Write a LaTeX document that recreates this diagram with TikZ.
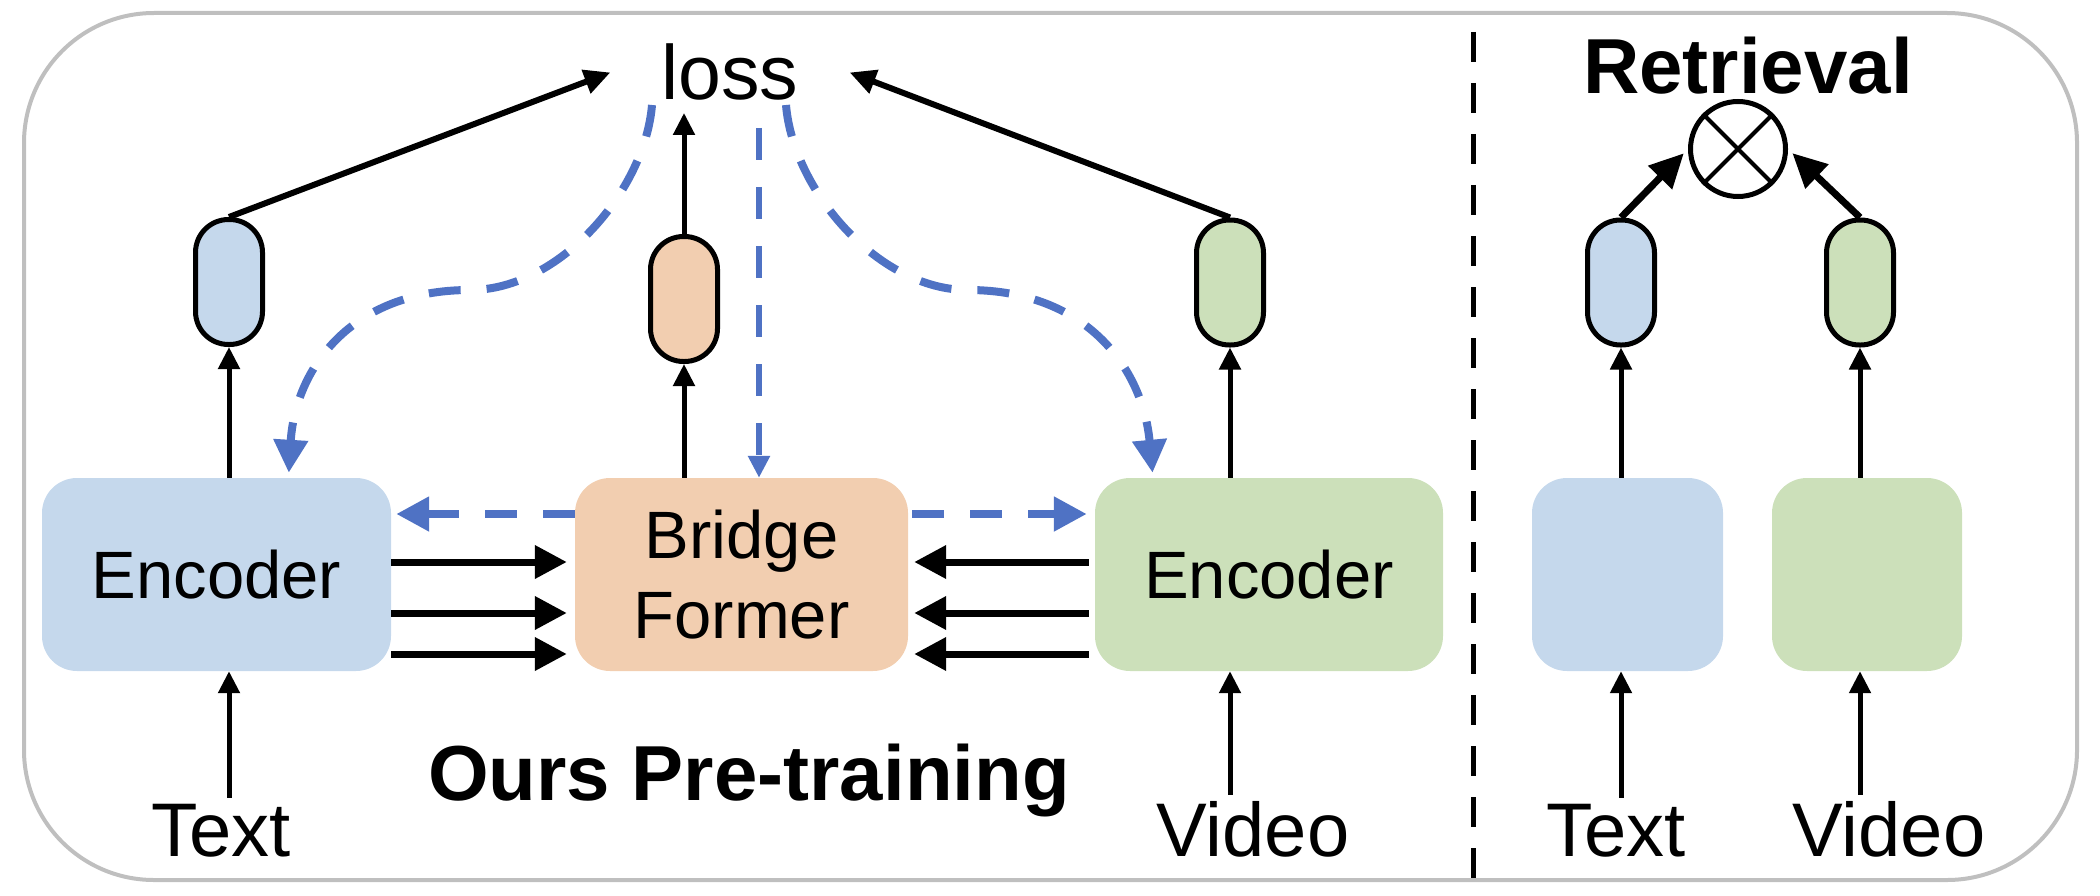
\documentclass[tikz,border=0pt]{standalone}
\usepackage{fontspec}
\setmainfont{Liberation Sans}
\usetikzlibrary{arrows.meta}

\definecolor{encblue}{RGB}{197,216,236}
\definecolor{bridgeorange}{RGB}{242,206,176}
\definecolor{encgreen}{RGB}{204,224,186}
\definecolor{dashblue}{RGB}{79,114,196}
\definecolor{framegray}{RGB}{191,191,191}

\begin{document}
\begin{tikzpicture}[
	x=1pt, y=-1pt
	,box/.style={rectangle, rounded corners=35pt, inner sep=0pt, minimum width=#1, minimum height=193pt, font=\fontsize{67}{80}\selectfont, align=center}
	,pill/.style={rectangle, rounded corners=33pt, draw, line width=5pt, minimum width=67pt, minimum height=125pt, inner sep=0pt}
	,lbl/.style={font=\fontsize{76}{80}\selectfont, anchor=base, inner sep=6pt}
	,title/.style={font=\bfseries\fontsize{78}{80}\selectfont, anchor=base}
	,arr/.style={line width=5pt, -{Triangle[length=22pt, width=21pt]}}
	,fat/.style={line width=7pt, -{Triangle[length=32pt, width=32pt]}}
	,diag/.style={line width=6pt, -{Triangle[length=26pt, width=24pt]}}
	,rarr/.style={line width=7pt, -{Triangle[length=34pt, width=32pt]}}
	,fb/.style={dashblue, line width=8pt, dash pattern=on 32pt off 26pt, -{Triangle[length=33pt, width=33pt]}}
	,fbthin/.style={dashblue, line width=6pt, dash pattern=on 32pt off 27pt, -{Triangle[length=22pt, width=21pt]}}
]
	\useasboundingbox (0,0) rectangle (2100,896);
	\draw [framegray, line width=4pt, rounded corners=130pt] (24,13) rectangle (2077,880);
	\draw [line width=5pt, dash pattern=on 30pt off 21pt] (1473,32) -- (1473,878);

	\node [box=349pt, fill=encblue] (encT) at (216.5,574.5) {Encoder};
	\node [box=333pt, fill=bridgeorange] (bridge) at (741.5,574.5) {Bridge\\Former};
	\node [box=348pt, fill=encgreen] (encV) at (1269,574.5) {Encoder};
	\node [box=191pt, fill=encblue] (retT) at (1627.5,574.5) {};
	\node [box=190pt, fill=encgreen] (retV) at (1867,574.5) {};

	\node [pill, fill=encblue] (capT) at (229,282) {};
	\node [pill, fill=bridgeorange] (capB) at (684,299) {};
	\node [pill, fill=encgreen] (capV) at (1230,282.5) {};
	\node [pill, fill=encblue] (rcapT) at (1621,282.5) {};
	\node [pill, fill=encgreen] (rcapV) at (1860,282.5) {};

	\node [lbl] (txtT) at (221,856) {Text};
	\node [lbl] (txtV) at (1253,856) {Video};
	\node [lbl] (rtxtT) at (1616,856) {Text};
	\node [lbl] (rtxtV) at (1889,856) {Video};
	\node [title] (pretrain) at (749,800) {Ours Pre-training};
	\node [title] (retrieval) at (1748,94) {Retrieval};
	\node [font=\fontsize{77}{80}\selectfont, anchor=base, inner xsep=51pt, inner ysep=12pt] (loss) at (730,100) {loss};

	\node [circle, draw, line width=5pt, minimum size=95pt, inner sep=0pt] (mult) at (1738,149) {};
	\draw [line width=4pt] (mult.north west) -- (mult.south east) (mult.north east) -- (mult.south west);

	\draw [arr] (capT |- txtT.north) -- (capT |- encT.south);
	\draw [arr] (capV |- txtV.north) -- (capV |- encV.south);
	\draw [arr] (rcapT |- rtxtT.north) -- (rcapT |- retT.south);
	\draw [arr] (rcapV |- rtxtV.north) -- (rcapV |- retV.south);

	\draw [arr] (capT |- encT.north) -- (capT.south);
	\draw [arr] (capB |- bridge.north) -- (capB.south);
	\draw [arr] (capV |- encV.north) -- (capV.south);
	\draw [arr] (rcapT |- retT.north) -- (rcapT.south);
	\draw [arr] (rcapV |- retV.north) -- (rcapV.south);

	\draw [diag] (capT.north) -- (loss.west);
	\draw [diag] (capV.north) -- (loss.east);
	\draw [arr] (capB.north) -- (capB |- loss.south);

	\draw [fat, shorten >=8pt] ([yshift=12.5pt]encT.east) -- ([yshift=12.5pt]bridge.west);
	\draw [fat, shorten >=8pt] ([yshift=-38.5pt]encT.east) -- ([yshift=-38.5pt]bridge.west);
	\draw [fat, shorten >=8pt] ([yshift=-79.5pt]encT.east) -- ([yshift=-79.5pt]bridge.west);
	\draw [fat, shorten <=6pt, shorten >=6pt] ([yshift=12.5pt]encV.west) -- ([yshift=12.5pt]bridge.east);
	\draw [fat, shorten <=6pt, shorten >=6pt] ([yshift=-38.5pt]encV.west) -- ([yshift=-38.5pt]bridge.east);
	\draw [fat, shorten <=6pt, shorten >=6pt] ([yshift=-79.5pt]encV.west) -- ([yshift=-79.5pt]bridge.east);

	\coordinate (lossL) at (652,105);
	\coordinate (lossM) at (759,128);
	\coordinate (lossR) at (786,105);
	\draw [fbthin] (lossM) -- (lossM |- bridge.north);
	\draw [fb, shorten >=5pt] (lossL) .. controls (645,190) and (560,290) .. (470,290) .. controls (350,290) and (295,370) .. ([xshift=72pt]encT.north);
	\draw [fb, shorten >=5pt] (lossR) .. controls (793,190) and (878,290) .. (968,290) .. controls (1088,290) and (1143,370) .. ([xshift=-116pt]encV.north);
	\draw [fb, shorten >=5pt] ([yshift=60.5pt]bridge.west) -- ([yshift=60.5pt]encT.east);
	\draw [fb, shorten <=4pt, shorten >=8pt] ([yshift=60.5pt]bridge.east) -- ([yshift=60.5pt]encV.west);

	\draw [rarr, shorten >=6pt] (rcapT.north) -- (mult.west);
	\draw [rarr, shorten >=6pt] (rcapV.north) -- (mult.east);
\end{tikzpicture}
\end{document}
